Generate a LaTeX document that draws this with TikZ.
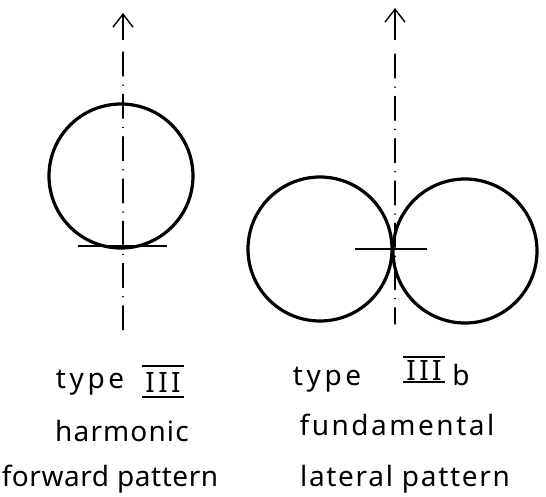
\documentclass[tikz,border=0pt]{standalone}
\usepackage{fontspec}
\setmainfont{Noto Sans}
\usetikzlibrary{arrows.meta}
\newcommand\trk[1]{\addfontfeature{LetterSpace=#1}}
\tikzset{
  lobe/.style={line width=3.2pt},
  axisline/.style={line width=1.2pt, line cap=round, dash pattern=on 24pt off 9pt on 0.3pt off 9pt},
  shaft/.style={line width=1.2pt, -{Straight Barb[length=13pt,width=20pt,line width=1.4pt]}},
  tick/.style={line width=1.5pt},
  bar/.style={line width=2.2pt},
  lbl/.style={anchor=base, inner sep=0pt, font=\fontsize{28}{32}\selectfont},
}
\begin{document}
\begin{tikzpicture}[x=1pt,y=-1pt]
\useasboundingbox (0,0) rectangle (546,496);
% left figure
\coordinate (Lc) at (121,176);
\coordinate (Ltop) at (123,13);
\coordinate (Lshaft) at (123,40);
\coordinate (Lbot) at (123,332);
\coordinate (Ltl) at (78,246);
\coordinate (Ltr) at (167,246);
\draw[lobe] (Lc) circle (72);
\draw[shaft] (Lshaft) -- (Ltop);
\draw[axisline] (Lshaft) ++(0,12) -- (Lbot);
\draw[tick] (Ltl) -- (Ltr);
% right figure
\coordinate (Rl) at (320,249);
\coordinate (Rr) at (465,251);
\coordinate (Rtop) at (395,8);
\coordinate (Rshaft) at (395,40);
\coordinate (Rbot) at (395,324);
\coordinate (Rhl) at (355,249);
\coordinate (Rhr) at (427,249);
\draw[lobe] (Rl) circle (72);
\draw[lobe] (Rr) circle (72);
\draw[shaft] (Rshaft) -- (Rtop);
\draw[axisline] (Rshaft) ++(0,14) -- (Rbot);
\draw[tick] (Rhl) -- (Rhr);
% labels
\node[lbl] (t1) at (90,388) {\trk{13}type};
\node[lbl] (t1n) at (163,392) {\trk{12}III};
\draw[bar] ([xshift=-3pt,yshift=6pt]t1n.north west) -- ([xshift=3pt,yshift=6pt]t1n.north east);
\draw[bar] ([xshift=-3pt,yshift=-5pt]t1n.south west) -- ([xshift=3pt,yshift=-5pt]t1n.south east);
\node[lbl] (t2) at (122,441) {\trk{4}harmonic};
\node[lbl] (t3) at (110,486) {\trk{2}forward pattern};
\node[lbl] (u1) at (327,385) {\trk{13}type};
\node[lbl] (u1n) at (424,380) {\trk{12}III};
\draw[bar] ([xshift=-3pt,yshift=3pt]u1n.north west) -- ([xshift=3pt,yshift=3pt]u1n.north east);
\draw[bar] ([xshift=-3pt,yshift=-2pt]u1n.south west) -- ([xshift=3pt,yshift=-2pt]u1n.south east);
\node[lbl] (u1b) at (461,385) {b};
\node[lbl] (u2) at (397,435) {\trk{9}fundamental};
\node[lbl] (u3) at (405,486) {\trk{6}lateral pattern};
\end{tikzpicture}
\end{document}
